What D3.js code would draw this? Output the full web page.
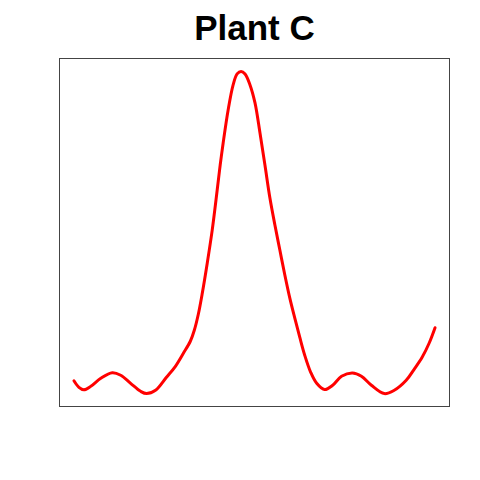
<!DOCTYPE html>
<html><head><meta charset="utf-8">
<script src="https://cdn.jsdelivr.net/npm/d3@7"></script>
<style>body{margin:0;background:#fff}svg{display:block}</style>
</head><body>
<script>
const title = "Plant C";
const xValues = [0,1.38,2.75,4.68,7.44,10.61,12.95,15.70,18.46,20.11,22.59,25.62,28.10,30.30,32.23,33.33,34.44,35.54,36.91,38.29,39.67,40.50,41.32,42.70,44.08,45.18,46.28,47.38,48.76,50.14,51.52,52.89,54.27,55.65,57.02,58.40,59.78,61.16,62.53,63.91,65.56,67.22,69.42,71.63,74.10,77.13,79.61,82.37,85.95,88.71,92.01,94.21,96.42,98.35,100];
const yValues = [3.98,1.96,1.18,2.27,4.75,6.46,5.69,3.20,0.71,0,1.03,5.07,8.48,12.52,16.25,19.67,24.64,31.16,40.49,50.74,63.18,70.94,77.78,88.04,95.81,99.22,100,99.22,95.81,90.21,80.89,70.94,60.70,52.32,44.55,36.79,29.61,23.40,17.50,11.90,6.62,3.20,1.24,2.58,5.38,6.40,5.38,2.58,0,1.03,4.13,7.55,11.28,15.63,20.45];

const W = 480, H = 480;
const box = {left: 59.5, top: 58.5, right: 449.5, bottom: 406.5};
const svg = d3.select("body").append("svg").attr("width", W).attr("height", H);
svg.append("rect").attr("width", W).attr("height", H).attr("fill", "#fff");

const xExt = d3.extent(xValues), yExt = d3.extent(yValues);
const xPad = (xExt[1]-xExt[0])*0.04, yPad = (yExt[1]-yExt[0])*0.04;
const x = d3.scaleLinear().domain([xExt[0]-xPad, xExt[1]+xPad]).range([box.left, box.right]);
const y = d3.scaleLinear().domain([yExt[0]-yPad, yExt[1]+yPad]).range([box.bottom, box.top]);

const data = xValues.map((v, i) => [v, yValues[i]]);
svg.append("path").datum(data)
  .attr("fill", "none").attr("stroke", "#ff0000").attr("stroke-width", 3)
  .attr("stroke-linejoin", "round").attr("stroke-linecap", "round")
  .attr("d", d3.line().x(d => x(d[0])).y(d => y(d[1])).curve(d3.curveCatmullRom.alpha(0.5)));

svg.append("rect").attr("x", box.left).attr("y", box.top)
  .attr("width", box.right-box.left).attr("height", box.bottom-box.top)
  .attr("fill", "none").attr("stroke", "#444").attr("stroke-width", 1);

svg.append("text").attr("x", (box.left+box.right)/2).attr("y", 40)
  .attr("text-anchor", "middle").attr("font-family", "Liberation Sans, Arial, sans-serif")
  .attr("font-weight", "bold").attr("font-size", 35).attr("fill", "#000").text(title);
</script>
</body></html>
